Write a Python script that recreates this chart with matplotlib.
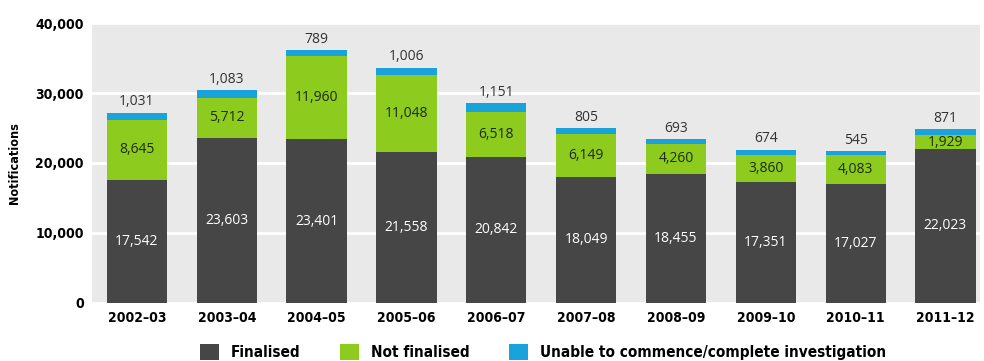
import matplotlib
matplotlib.use("Agg")
import matplotlib.pyplot as plt
import numpy as np

years = ["2002\u201303", "2003\u201304", "2004\u201305", "2005\u201306", "2006\u201307",
         "2007\u201308", "2008\u201309", "2009\u201310", "2010\u201311", "2011\u201312"]
finalised = [17542, 23603, 23401, 21558, 20842, 18049, 18455, 17351, 17027, 22023]
not_finalised = [8645, 5712, 11960, 11048, 6518, 6149, 4260, 3860, 4083, 1929]
unable = [1031, 1083, 789, 1006, 1151, 805, 693, 674, 545, 871]

DARK = "#464646"
GREEN = "#8dcc1e"
BLUE = "#1aa2da"

plt.rcParams["font.family"] = ["Open Sans", "DejaVu Sans"]
COND = {"family": "DejaVu Sans", "stretch": "condensed", "weight": "bold"}

fig = plt.figure(figsize=(9.84, 3.61), dpi=100)
ax = fig.add_axes([0.0935, 0.161, 0.902, 0.775])
ax.set_facecolor("#e9e9e9")

x = np.arange(len(years))
fin = np.array(finalised)
nf = np.array(not_finalised)
un = np.array(unable)
w = 0.67

b1 = ax.bar(x, fin, w, color=DARK, label="Finalised", zorder=3)
b2 = ax.bar(x, nf, w, bottom=fin, color=GREEN, label="Not finalised", zorder=3)
b3 = ax.bar(x, un, w, bottom=fin + nf, color=BLUE,
            label="Unable to commence/complete investigation", zorder=3)

for i in range(len(x)):
    ax.text(x[i], fin[i] / 2, f"{fin[i]:,}", ha="center", va="center",
            color="white", fontsize=10, zorder=4)
    ax.text(x[i], fin[i] + nf[i] / 2, f"{nf[i]:,}", ha="center", va="center",
            color="#1e2a10", fontsize=10, zorder=4)
    ax.text(x[i], fin[i] + nf[i] + un[i] + 500, f"{un[i]:,}", ha="center",
            va="bottom", color="#333333", fontsize=10, zorder=4)

ax.set_xlim(-0.5, 9.38)
ax.set_ylim(0, 40000)
ax.set_yticks([0, 10000, 20000, 30000, 40000])
ax.set_yticklabels(["0", "10,000", "20,000", "30,000", "40,000"])
ax.set_xticks(x)
ax.set_xticklabels(years)
ax.grid(axis="y", color="white", linewidth=2, zorder=1)
ax.tick_params(length=0, pad=6)
for lab in ax.get_xticklabels() + ax.get_yticklabels():
    lab.set_fontproperties(COND)
    lab.set_fontsize(10)
for s in ax.spines.values():
    s.set_visible(False)

ax.set_ylabel("Notifications", fontsize=9, labelpad=10, **COND)

leg = fig.legend(handles=[b1, b2, b3], loc="lower center", ncol=3,
                 bbox_to_anchor=(0.552, -0.035), frameon=False,
                 handlelength=1.2, handleheight=1.2, columnspacing=2.6,
                 prop=dict(COND, size=11))

fig.savefig("out.png", dpi=100)
